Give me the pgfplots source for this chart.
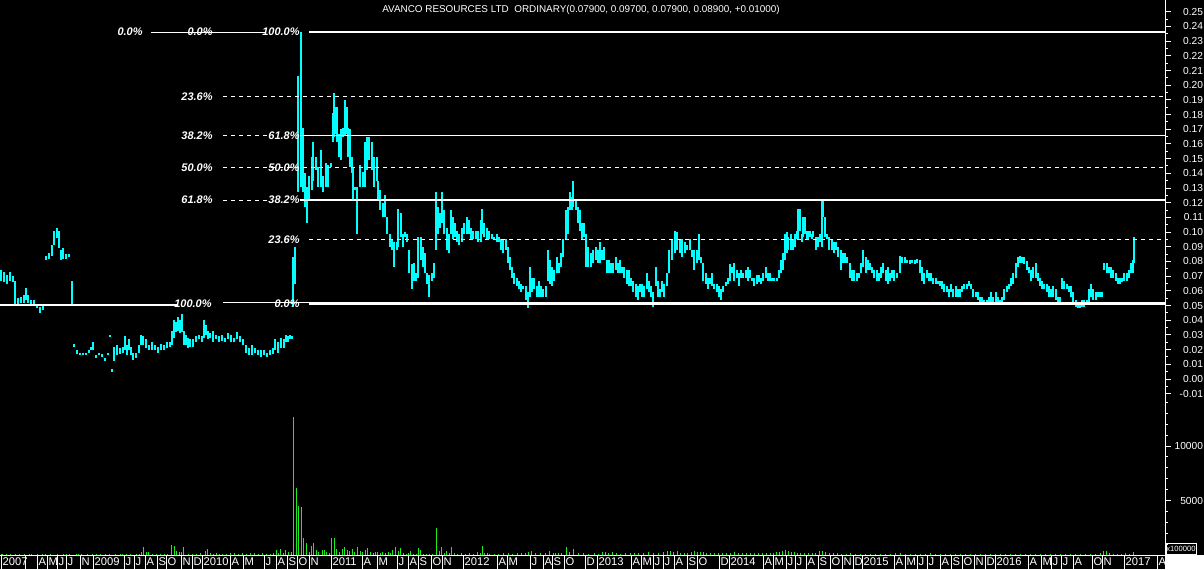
\documentclass[border=0pt]{standalone}
\usepackage{fontspec}
\setmainfont{Liberation Sans}
\usepackage{pgfplots}
\pgfplotsset{compat=1.18}
\usepackage{pgfplotstable}
\definecolor{pcyan}{RGB}{0,255,255}
\definecolor{vgreen}{RGB}{30,235,30}

% price bars: x = chart position, lo/hi = daily range
\pgfplotstableread{
x lo hi
1 0.067 0.074
4 0.066 0.073
7 0.065 0.071
10 0.067 0.073
13 0.066 0.070
15 0.050 0.067
18 0.050 0.055
21 0.052 0.056
24 0.052 0.057
26 0.054 0.062
28 0.052 0.057
31 0.050 0.054
34 0.050 0.054
37 0.048 0.050
40 0.045 0.049
43 0.047 0.050
46 0.081 0.084
49 0.082 0.086
52 0.084 0.091
54 0.091 0.101
57 0.096 0.103
59 0.089 0.101
61 0.081 0.088
63 0.082 0.089
66 0.082 0.085
69 0.083 0.085
72 0.050 0.067
74 0.022 0.024
77 0.017 0.020
80 0.016 0.018
83 0.016 0.018
86 0.016 0.018
89 0.018 0.020
91 0.020 0.022
93 0.020 0.025
96 0.014 0.016
99 0.016 0.018
102 0.015 0.017
105 0.012 0.014
108 0.016 0.018
110 0.029 0.030
112 0.005 0.007
114 0.012 0.022
117 0.016 0.023
120 0.017 0.021
123 0.018 0.022
125 0.020 0.029
127 0.016 0.023
129 0.020 0.027
131 0.016 0.022
133 0.013 0.018
136 0.014 0.018
139 0.018 0.023
141 0.023 0.030
143 0.023 0.029
146 0.021 0.027
149 0.020 0.023
152 0.020 0.025
155 0.020 0.023
158 0.018 0.022
161 0.020 0.024
164 0.020 0.023
167 0.021 0.025
170 0.022 0.025
172 0.023 0.033
174 0.028 0.040
176 0.032 0.039
178 0.033 0.042
180 0.031 0.040
182 0.032 0.044
184 0.023 0.033
186 0.023 0.030
188 0.021 0.028
190 0.022 0.027
193 0.022 0.027
196 0.025 0.029
199 0.027 0.030
202 0.025 0.029
204 0.028 0.040
206 0.030 0.037
208 0.027 0.033
210 0.028 0.031
213 0.025 0.033
216 0.027 0.030
219 0.025 0.029
222 0.026 0.030
225 0.025 0.028
228 0.027 0.031
231 0.025 0.030
234 0.025 0.028
237 0.027 0.032
240 0.025 0.029
243 0.023 0.027
246 0.018 0.023
249 0.016 0.021
252 0.016 0.023
255 0.018 0.021
258 0.016 0.020
261 0.015 0.020
264 0.016 0.020
267 0.015 0.018
270 0.016 0.020
273 0.017 0.021
275 0.020 0.027
278 0.018 0.025
281 0.021 0.028
284 0.021 0.027
286 0.025 0.030
288 0.025 0.029
290 0.027 0.030
292 0.027 0.029
293 0.049 0.083
295 0.065 0.090
298 0.127 0.206
301 0.131 0.236
303 0.127 0.171
305 0.117 0.140
307 0.106 0.131
309 0.122 0.138
312 0.129 0.151
313 0.135 0.161
316 0.142 0.151
318 0.131 0.144
321 0.131 0.156
323 0.127 0.138
326 0.131 0.147
328 0.131 0.146
331 0.144 0.147
333 0.161 0.181
334 0.165 0.195
336 0.167 0.185
337 0.161 0.185
339 0.151 0.167
341 0.149 0.170
343 0.165 0.171
345 0.166 0.190
347 0.167 0.185
348 0.151 0.171
350 0.144 0.170
352 0.140 0.151
353 0.122 0.144
355 0.129 0.131
357 0.099 0.131
360 0.131 0.146
363 0.131 0.141
365 0.131 0.161
367 0.142 0.165
369 0.149 0.165
372 0.142 0.161
374 0.131 0.151
377 0.135 0.151
378 0.122 0.135
380 0.115 0.129
383 0.110 0.120
385 0.110 0.125
387 0.099 0.110
390 0.090 0.099
392 0.088 0.095
394 0.076 0.093
397 0.088 0.093
398 0.090 0.116
401 0.097 0.113
403 0.090 0.099
405 0.097 0.100
407 0.093 0.099
409 0.072 0.088
412 0.061 0.078
414 0.067 0.079
416 0.067 0.072
418 0.069 0.097
421 0.081 0.097
423 0.076 0.090
425 0.072 0.086
427 0.065 0.072
429 0.056 0.071
432 0.067 0.072
434 0.069 0.079
436 0.088 0.127
438 0.099 0.117
440 0.103 0.113
442 0.106 0.127
444 0.099 0.115
447 0.088 0.103
449 0.086 0.099
451 0.099 0.115
453 0.095 0.110
455 0.097 0.106
457 0.093 0.101
459 0.091 0.099
462 0.093 0.103
464 0.099 0.106
467 0.099 0.110
469 0.099 0.108
471 0.095 0.103
473 0.095 0.101
476 0.095 0.101
478 0.093 0.101
481 0.093 0.108
482 0.099 0.116
484 0.097 0.106
487 0.095 0.103
489 0.095 0.101
492 0.095 0.099
494 0.095 0.097
497 0.093 0.099
499 0.093 0.097
501 0.088 0.095
503 0.086 0.095
506 0.088 0.095
508 0.079 0.090
510 0.074 0.083
512 0.069 0.076
514 0.065 0.072
517 0.063 0.069
519 0.061 0.067
521 0.059 0.065
523 0.061 0.063
526 0.054 0.063
528 0.048 0.059
530 0.056 0.076
532 0.059 0.069
534 0.061 0.069
537 0.056 0.063
539 0.056 0.067
541 0.056 0.063
543 0.056 0.061
546 0.056 0.063
548 0.067 0.088
550 0.065 0.081
552 0.063 0.076
554 0.067 0.074
557 0.072 0.083
559 0.072 0.079
561 0.076 0.086
563 0.083 0.095
566 0.095 0.115
568 0.099 0.117
570 0.115 0.127
572 0.115 0.124
573 0.117 0.135
576 0.115 0.122
578 0.106 0.117
580 0.101 0.115
582 0.095 0.106
584 0.097 0.106
586 0.076 0.099
588 0.076 0.090
591 0.076 0.086
593 0.079 0.088
596 0.081 0.090
598 0.079 0.088
600 0.079 0.093
602 0.081 0.088
604 0.081 0.090
607 0.072 0.081
609 0.072 0.081
611 0.072 0.079
613 0.072 0.079
616 0.074 0.083
618 0.072 0.079
620 0.072 0.081
622 0.072 0.076
624 0.069 0.076
627 0.065 0.074
629 0.063 0.074
631 0.063 0.069
633 0.059 0.067
636 0.056 0.065
638 0.054 0.063
640 0.059 0.065
642 0.056 0.065
644 0.056 0.063
647 0.061 0.072
649 0.059 0.067
651 0.056 0.063
653 0.049 0.059
656 0.063 0.076
658 0.056 0.067
660 0.056 0.061
662 0.059 0.067
664 0.056 0.065
667 0.063 0.072
669 0.072 0.088
672 0.081 0.095
675 0.086 0.101
677 0.088 0.100
680 0.086 0.095
682 0.083 0.095
685 0.086 0.093
687 0.088 0.091
690 0.088 0.095
692 0.083 0.088
694 0.074 0.088
697 0.079 0.088
699 0.081 0.099
701 0.079 0.083
703 0.067 0.079
706 0.065 0.072
708 0.061 0.069
710 0.065 0.069
712 0.063 0.072
714 0.061 0.065
717 0.059 0.065
719 0.056 0.063
721 0.054 0.061
723 0.059 0.063
726 0.063 0.066
728 0.065 0.069
730 0.067 0.078
732 0.072 0.076
734 0.067 0.079
737 0.069 0.074
739 0.063 0.072
741 0.069 0.074
743 0.069 0.072
746 0.069 0.074
748 0.067 0.076
750 0.069 0.074
752 0.067 0.069
754 0.063 0.069
757 0.065 0.071
759 0.066 0.071
761 0.065 0.069
763 0.067 0.072
766 0.069 0.076
768 0.067 0.072
770 0.067 0.072
772 0.067 0.069
774 0.067 0.069
777 0.067 0.069
779 0.069 0.074
781 0.072 0.081
783 0.074 0.086
785 0.081 0.099
787 0.086 0.100
788 0.088 0.097
791 0.088 0.099
793 0.088 0.095
795 0.090 0.099
797 0.095 0.101
798 0.095 0.116
800 0.101 0.116
802 0.093 0.099
803 0.097 0.110
805 0.099 0.110
807 0.095 0.101
808 0.095 0.101
810 0.097 0.101
812 0.095 0.099
813 0.097 0.101
816 0.088 0.097
818 0.090 0.097
820 0.093 0.099
822 0.090 0.122
823 0.110 0.122
825 0.097 0.110
827 0.095 0.099
829 0.088 0.097
832 0.088 0.095
834 0.086 0.093
836 0.088 0.093
838 0.083 0.090
841 0.074 0.088
843 0.079 0.086
845 0.079 0.086
847 0.079 0.083
850 0.069 0.079
852 0.067 0.074
854 0.067 0.074
857 0.067 0.072
859 0.069 0.072
861 0.072 0.079
863 0.076 0.088
866 0.072 0.083
868 0.074 0.081
870 0.074 0.079
872 0.072 0.076
874 0.069 0.074
877 0.067 0.074
879 0.067 0.072
881 0.069 0.076
883 0.072 0.079
886 0.067 0.074
888 0.065 0.076
890 0.067 0.072
892 0.069 0.074
894 0.067 0.074
897 0.069 0.072
900 0.072 0.084
902 0.079 0.083
905 0.079 0.083
907 0.079 0.081
910 0.078 0.081
912 0.079 0.081
915 0.078 0.081
917 0.079 0.082
920 0.072 0.081
922 0.067 0.076
924 0.065 0.072
927 0.069 0.074
929 0.067 0.072
931 0.067 0.072
933 0.065 0.069
936 0.065 0.069
938 0.065 0.067
940 0.063 0.067
942 0.061 0.067
944 0.059 0.065
947 0.059 0.063
949 0.056 0.061
951 0.059 0.065
953 0.056 0.061
956 0.056 0.063
958 0.056 0.061
960 0.056 0.061
962 0.059 0.063
964 0.061 0.065
967 0.061 0.065
969 0.063 0.067
971 0.061 0.065
973 0.056 0.061
976 0.056 0.059
978 0.054 0.059
980 0.052 0.056
982 0.052 0.056
984 0.052 0.054
987 0.052 0.054
989 0.052 0.056
991 0.052 0.059
993 0.052 0.056
996 0.052 0.059
998 0.052 0.056
1000 0.052 0.054
1002 0.052 0.056
1004 0.054 0.061
1007 0.059 0.063
1009 0.061 0.065
1011 0.063 0.069
1013 0.065 0.072
1016 0.069 0.079
1018 0.076 0.083
1020 0.079 0.084
1022 0.079 0.083
1024 0.078 0.083
1027 0.074 0.080
1029 0.072 0.076
1031 0.067 0.074
1033 0.069 0.076
1036 0.069 0.079
1038 0.067 0.072
1040 0.063 0.069
1042 0.061 0.067
1044 0.061 0.065
1047 0.059 0.065
1049 0.056 0.063
1051 0.056 0.061
1053 0.056 0.063
1056 0.054 0.061
1058 0.052 0.056
1060 0.052 0.056
1062 0.061 0.069
1064 0.061 0.067
1067 0.061 0.065
1069 0.059 0.063
1071 0.056 0.063
1073 0.052 0.059
1076 0.049 0.054
1078 0.048 0.052
1080 0.048 0.052
1082 0.049 0.054
1084 0.049 0.054
1087 0.052 0.054
1089 0.052 0.061
1091 0.056 0.065
1093 0.054 0.061
1096 0.054 0.059
1098 0.056 0.059
1100 0.056 0.059
1102 0.056 0.059
1104 0.074 0.079
1107 0.072 0.079
1109 0.072 0.076
1111 0.069 0.076
1113 0.069 0.074
1116 0.067 0.072
1118 0.065 0.069
1120 0.065 0.069
1122 0.066 0.069
1124 0.067 0.072
1127 0.067 0.072
1129 0.069 0.074
1131 0.072 0.079
1133 0.072 0.081
1134 0.079 0.097
}\pricedata

% volume (units of 100000)
\pgfplotstableread{
x v
2 120
6 120
10 120
15 120
19 120
24 120
29 120
31 120
37 120
42 120
45 120
50 120
57 120
63 120
66 120
69 120
76 120
78 120
81 120
87 120
92 120
96 120
100 120
105 120
109 120
115 120
120 120
122 120
126 120
130 120
136 120
139 120
141 280
143 750
146 280
148 280
152 100
156 120
160 100
164 100
167 120
171 940
174 850
176 380
179 280
181 280
183 750
188 120
192 100
196 120
200 150
205 380
207 570
210 150
213 120
216 150
219 120
222 120
226 100
230 180
234 150
238 120
242 150
246 100
250 180
254 150
258 120
262 150
266 120
270 100
273 150
276 500
278 180
280 550
283 150
285 450
288 300
291 250
293 12660
296 6150
298 4500
301 4400
303 1560
306 1100
309 280
311 830
313 1100
316 460
318 280
322 460
324 460
326 280
329 180
331 1560
334 1560
336 550
339 280
342 550
344 730
347 460
349 370
352 570
354 250
357 750
360 380
362 250
365 470
367 650
370 250
373 150
375 250
377 250
380 150
382 250
385 150
388 250
390 150
392 470
395 750
398 380
400 650
403 150
406 100
408 150
410 380
413 100
416 100
418 650
420 470
423 100
426 100
429 100
432 100
436 2450
439 380
441 750
444 150
446 380
449 150
451 750
454 150
457 100
461 150
465 100
469 150
473 120
477 250
480 150
482 850
484 150
487 150
489 100
494 100
498 120
503 150
508 150
512 120
517 150
521 150
525 150
528 250
531 380
535 150
540 150
545 150
549 380
553 150
555 150
558 150
561 150
566 750
569 250
573 570
578 150
583 150
588 120
594 150
598 100
602 250
605 250
608 200
612 250
616 200
620 120
625 150
630 150
634 150
638 150
643 150
648 280
653 150
658 150
663 250
667 350
670 350
673 250
677 350
680 200
684 150
687 150
691 250
694 350
697 280
700 250
703 250
706 200
710 180
714 200
718 200
722 200
726 200
730 200
734 250
738 200
742 150
746 200
750 150
754 150
758 200
762 150
766 150
770 180
773 200
776 250
779 280
782 350
785 460
788 350
791 250
794 250
797 200
800 180
804 150
808 150
812 200
815 150
819 350
822 380
825 250
829 180
833 150
837 150
841 120
846 120
850 150
855 120
860 120
865 120
870 100
875 120
880 120
885 100
890 100
895 150
900 150
905 100
910 120
915 100
920 100
925 100
930 150
935 100
940 100
945 100
950 100
955 100
960 100
965 100
970 100
975 100
980 100
985 100
990 120
995 100
1000 100
1005 100
1010 100
1015 100
1020 100
1025 100
1030 120
1035 100
1040 100
1045 100
1050 100
1055 100
1060 100
1065 100
1070 100
1075 100
1080 120
1085 100
1090 100
1095 100
1100 150
1103 370
1106 380
1109 150
1113 120
1117 100
1121 120
1125 150
1129 120
1133 250
}\voldata

\newcommand{\fib}{\fontsize{5.5}{6}\selectfont\bfseries\itshape}
\newcommand{\axfont}{\fontsize{5.1}{6}\selectfont}

\begin{document}
\begin{tikzpicture}
\fill[black] (0pt,0pt) rectangle (602pt,284.5pt);
\fill[white] (582.5pt,0pt) rectangle (602pt,7pt);
\useasboundingbox (0pt,0pt) rectangle (602pt,284.5pt);

% ---------------- price panel ----------------
\begin{axis}[
  at={(0pt,84.5pt)}, anchor=south west, scale only axis,
  width=582.5pt, height=200pt,
  xmin=0, xmax=1165, ymin=-0.014296, ymax=0.258,
  axis x line=none, axis y line*=right,
  axis line style={white, line width=0.5pt},
  ytick={-0.01,0,...,0.25}, minor tick num=1,
  tick align=outside, tick style={white, line width=0.5pt},
  major tick length=3pt, minor tick length=1.5pt,
  scaled y ticks=false,
  yticklabel style={text=white, font=\axfont, anchor=east, xshift=19.5pt,
    /pgf/number format/fixed, /pgf/number format/fixed zerofill,
    /pgf/number format/precision=2, /pgf/number format/assume math mode=true},
]
\addplot[draw=none, mark=none, error bars/.cd, y dir=both, y explicit,
  error mark=none, error bar style={draw=pcyan, line width=1.2pt}]
  table[x=x, y expr={(\thisrow{lo}+\thisrow{hi})/2}, y error expr={(\thisrow{hi}-\thisrow{lo})/2}] {\pricedata};

% Fibonacci retracement lines
\addplot[white, line width=0.5pt] coordinates {(151,0.2362) (266,0.2362)};
\addplot[white, line width=1.1pt] coordinates {(309,0.2362) (1165,0.2362)};
\addplot[white, line width=0.5pt, dash pattern=on 2pt off 2pt] coordinates {(223,0.1925) (1165,0.1925)};
\addplot[white, line width=0.5pt, dash pattern=on 2pt off 2pt] coordinates {(223,0.1655) (270,0.1655)};
\addplot[white, line width=0.6pt] coordinates {(300,0.1655) (1165,0.1655)};
\addplot[white, line width=0.5pt, dash pattern=on 2pt off 2pt] coordinates {(223,0.1437) (1165,0.1437)};
\addplot[white, line width=0.5pt, dash pattern=on 2pt off 2pt] coordinates {(223,0.1218) (270,0.1218)};
\addplot[white, line width=0.6pt] coordinates {(300,0.1218) (1165,0.1218)};
\addplot[white, line width=0.5pt, dash pattern=on 2pt off 2pt] coordinates {(309,0.0948) (1165,0.0948)};
\addplot[white, line width=0.6pt] coordinates {(0,0.0504) (177,0.0504)};
\addplot[white, line width=0.5pt] coordinates {(223,0.0518) (309,0.0518)};
\addplot[white, line width=1.5pt] coordinates {(309,0.0511) (1165,0.0511)};

\node[text=white, font=\fib, anchor=east, inner sep=0pt] at (axis cs:143,0.2362) {0.0\%};
\node[text=white, font=\fib, anchor=east, inner sep=0pt] at (axis cs:213,0.2362) {0.0\%};
\node[text=white, font=\fib, anchor=east, inner sep=0pt] at (axis cs:300,0.2362) {100.0\%};
\node[text=white, font=\fib, anchor=east, inner sep=0pt] at (axis cs:213,0.1925) {23.6\%};
\node[text=white, font=\fib, anchor=east, inner sep=0pt] at (axis cs:213,0.1655) {38.2\%};
\node[text=white, font=\fib, anchor=east, inner sep=0pt] at (axis cs:213,0.1437) {50.0\%};
\node[text=white, font=\fib, anchor=east, inner sep=0pt] at (axis cs:213,0.1218) {61.8\%};
\node[text=white, font=\fib, anchor=east, inner sep=0pt] at (axis cs:300,0.1655) {61.8\%};
\node[text=white, font=\fib, anchor=east, inner sep=0pt] at (axis cs:300,0.1437) {50.0\%};
\node[text=white, font=\fib, anchor=east, inner sep=0pt] at (axis cs:300,0.1218) {38.2\%};
\node[text=white, font=\fib, anchor=east, inner sep=0pt] at (axis cs:300,0.0948) {23.6\%};
\node[text=white, font=\fib, anchor=east, inner sep=0pt] at (axis cs:212,0.0511) {100.0\%};
\node[text=white, font=\fib, anchor=east, inner sep=0pt] at (axis cs:300,0.0511) {0.0\%};

\node[text=white, font=\fontsize{4.95}{5.5}\selectfont] at (axis cs:581,0.2512)
  {AVANCO RESOURCES LTD\ \ ORDINARY(0.07900, 0.09700, 0.07900, 0.08900, +0.01000)};
\end{axis}

% ---------------- volume panel ----------------
\begin{axis}[
  at={(0pt,7pt)}, anchor=south west, scale only axis,
  width=582.5pt, height=77.5pt,
  xmin=0, xmax=1165, ymin=0, ymax=14220,
  separate axis lines, axis x line*=bottom, axis y line*=right,
  axis line style={white, line width=0.5pt},
  xtick=\empty, ytick={5000,10000},
  minor ytick={1000,2000,...,14000},
  tick align=outside, tick style={white, line width=0.5pt},
  major tick length=3pt, minor tick length=1.5pt,
  scaled y ticks=false, clip=false,
  yticklabel style={text=white, font=\axfont, anchor=east, xshift=19.5pt,
    /pgf/number format/set thousands separator={},
    /pgf/number format/assume math mode=true},
]
\addplot[ycomb, draw=vgreen, line width=0.5pt, mark=none] table[x=x, y=v] {\voldata};
\node[draw=white, line width=0.4pt, text=white, font=\fontsize{3.8}{4}\selectfont,
  inner sep=0pt, minimum width=15pt, minimum height=5.5pt] at (axis cs:1181,596) {x100000};
\end{axis}

% ---------------- date strip ----------------
\begin{axis}[
  at={(0pt,0pt)}, anchor=south west, scale only axis,
  width=582.5pt, height=7pt,
  xmin=0, xmax=1165, ymin=0, ymax=1,
  axis line style={draw=none}, ytick=\empty,
  xtick={1,25,37,47,57,66,80,93,124,134,145,157,166,181,192,202,230,243,264,276,287,297,309,331,362,377,397,408,418,431,442,463,497,507,530,543,552,564,585,597,631,641,653,663,674,687,697,719,729,763,773,786,795,806,818,830,842,853,862,894,905,917,927,940,951,962,974,985,995,1028,1041,1051,1061,1073,1092,1102,1124,1157},
  xticklabels={2007,{},A,M,J,J,N,2009,J,J,A,S,O,N,D,2010,A,M,J,A,S,O,N,2011,A,M,J,A,S,O,N,2012,A,M,J,A,S,O,D,2013,A,M,J,J,A,S,O,D,2014,A,M,J,J,A,S,O,N,D,2015,A,M,J,J,A,S,O,N,D,2016,A,M,J,J,A,O,N,2017,A},
  xmajorgrids, major grid style={white, line width=0.5pt},
  major tick length=0pt, tick style={draw=none},
  xticklabel style={text=white, font=\fontsize{5.6}{6}\selectfont, anchor=west,
    yshift=3.5pt, xshift=0.6pt, inner sep=0pt},
]
\addplot[draw=none] coordinates {(0,0)};
\end{axis}
\end{tikzpicture}
\end{document}
